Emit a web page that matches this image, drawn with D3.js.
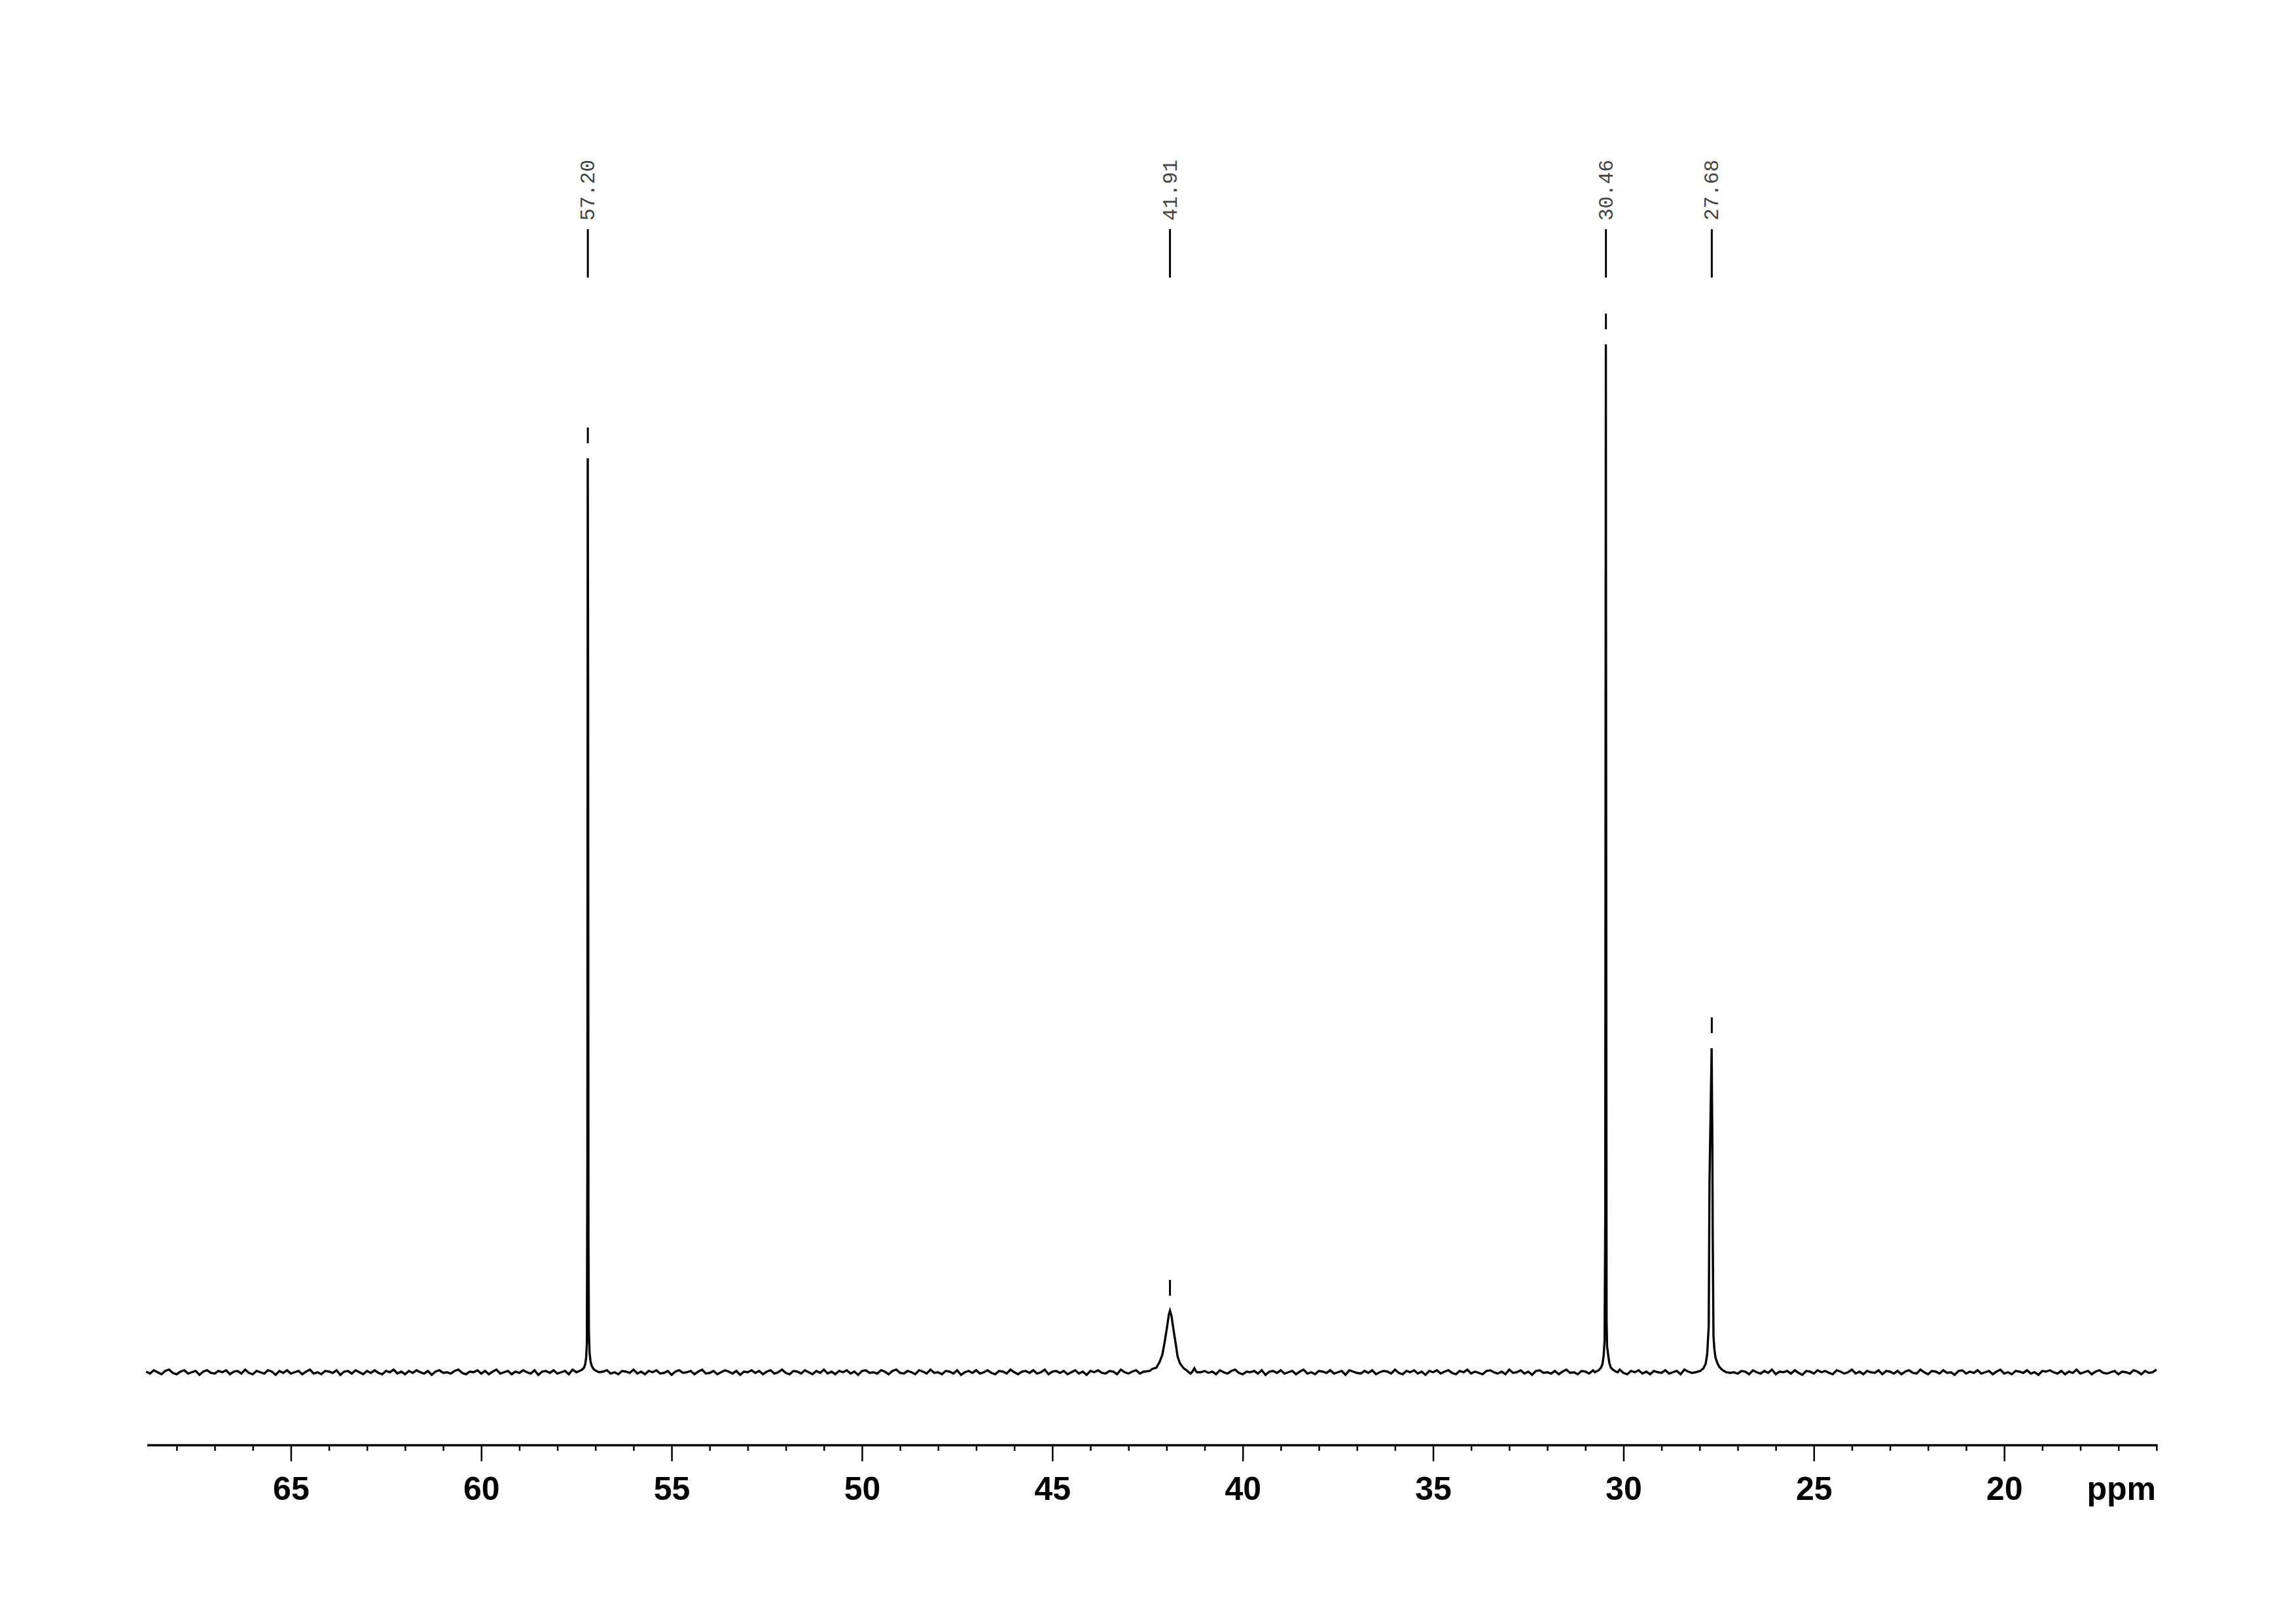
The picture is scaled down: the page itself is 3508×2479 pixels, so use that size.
<!DOCTYPE html>
<html>
<head>
<meta charset="utf-8">
<script src="https://cdn.jsdelivr.net/npm/d3@7"></script>
<style>
    html, body { margin: 0; padding: 0; background: #fff; }
    svg { display: block; }
</style>
</head>
<body>
<svg id="chart" width="3508" height="2479"></svg>
<script>
// picked peaks
const peakLabels = ['57.20', '41.91', '30.46', '27.68'];
const peakPpm = [57.20, 41.91, 30.46, 27.68];
const peakHeight = [1396, 94, 1570, 495];

// line shape around each peak, [ppm, intensity]
const peak57 = [[57.5,0],[57.42,2],[57.35,4],[57.3,7],[57.27,12],[57.245,22],[57.225,45],[57.212,323],[57.202,1396],
    [57.193,1065],[57.184,209],[57.172,62],[57.155,30],[57.13,17],[57.1,10],[57.05,5],[56.98,2],[56.9,0]];
const peak42 = [[42.6,1],[42.56,1],[42.44,2],[42.38,5],[42.27,7],[42.18,16],[42.11,27],[42.05,46],[41.99,68],[41.94,88],
    [41.91,94],[41.87,86],[41.81,62],[41.75,40],[41.71,24],[41.65,14],[41.59,9],[41.53,5],[41.47,3],[41.42,0],
    [41.37,-2],[41.32,1],[41.27,6],[41.23,2],[41.2,0]];
const peak30 = [[30.75,0],[30.65,3],[30.59,7],[30.55,13],[30.52,25],[30.495,48],[30.478,231],[30.462,1570],[30.452,674],
    [30.443,78],[30.43,40],[30.4,26],[30.37,14],[30.33,7],[30.28,4],[30.2,1],[30.15,0]];
const peak28 = [[28.1,0],[27.98,2],[27.9,6],[27.84,13],[27.8,28],[27.76,70],[27.74,290],[27.684,495],[27.664,344],[27.655,210],
    [27.635,55],[27.61,34],[27.58,22],[27.54,15],[27.49,9],[27.43,5],[27.36,2],[27.3,0]];

// baseline noise, one value every 0.1 ppm from 68.8 ppm downwards
const noiseStart = 68.8;
const noiseStep = 0.1;
const noise = [
    1,-2,3,0,-3,2,4,-1,-3,1,3,-2,0,2,-4,1,3,-1,-2,2,
    0,3,-3,1,2,-2,4,-1,-3,2,0,-2,3,1,-4,2,-1,3,-2,0,
    2,-3,1,4,-2,0,-3,2,1,-1,3,-4,1,2,-2,3,0,-3,2,-1,
    3,-1,-3,2,0,4,-2,1,-3,2,-1,3,0,-2,2,-4,1,3,-1,0,
    -2,2,4,-1,-3,1,0,3,-2,2,-3,1,4,-2,0,2,-3,1,-1,3,
    0,-2,3,-4,1,2,-1,3,-2,0,2,-3,4,1,-2,0,3,-1,-3,2,
    1,3,-2,0,-3,2,1,-1,4,-2,1,-3,2,0,3,-2,-1,2,-4,1,
    3,-1,0,2,-3,1,4,-2,-1,2,-3,0,3,1,-2,2,-4,1,0,3,
    -1,2,-3,1,3,-2,0,4,-1,-3,2,1,-2,3,0,-3,2,-1,4,-2,
    1,-3,2,0,3,-2,1,-4,2,3,-1,0,-2,3,1,-3,2,4,-1,-2,
    2,0,-3,3,1,-2,4,-1,0,-3,2,1,-2,3,-4,0,2,-1,3,-2,
    0,3,-1,-3,2,1,-2,4,0,-3,1,2,-1,3,-2,0,4,-3,1,2,
    -1,2,-3,0,3,-2,1,-4,2,0,3,-1,-2,2,1,-3,4,0,-2,1,
    3,-2,0,2,-3,1,3,-1,-4,2,0,3,-2,1,-1,4,-3,0,2,-1,
    1,-3,3,0,-2,2,4,-1,-3,1,0,2,-2,3,-4,1,2,-1,3,-2,
    0,2,-3,1,4,-2,0,-3,2,1,-1,3,-2,0,2,-4,3,1,-1,-2,
    2,-1,3,-3,0,2,1,-2,4,-1,-3,2,0,3,-2,1,-4,2,0,3,
    -2,1,3,-1,-3,2,0,4,-2,1,-1,-3,2,3,0,-2,1,-3,4,-1,
    0,3,-2,1,-4,2,3,-1,0,-2,2,-3,1,4,-1,0,-3,2,1,-2,
    3,-1,0,-3,2,1,-2,4,-1,-3,2,0,3,-2,1,-3,2,0,-1,3,
    -2,0,2,-3,4,1,-1,-3,2,0,3,-2,1,-4,2,3,-1,0,-2,2,
    1,-3,3,0,-2,2,-1,4,-3,1,0,2,-2,3,-1,-4,2,1,-2,3,
    0,2,-1,-3,3,1,-2,0,4,-2,1,-3,2,0,-1,3,-3,2,1,-2,
    2,-3,1,3,-1,-2,4,0,-3,2,1,-2,3,-1,0,-4,2,3,-2,1,
    -1,3,-2,0,2,-3,1,4,-2,0,-3,2,1,-1,3,-2,0,-4,2,1,
    3,0,-2,2,-3,1,-1,4,-2,0,2,-3,1,3,-1,-2,0,2,-3,1,
    0,-2,3,1,-3,2,-1,0,4,-2,1,-3,2,0,3,-1,-2,2,-4,1
];

const majorTicks = [65, 60, 55, 50, 45, 40, 35, 30, 25, 20];
const minorTicks = d3.range(16, 69).filter(v => v % 5 !== 0);

const ppmLeft = 68.78;
const ppmRight = 15.98;

const svg = d3.select('#chart');
svg.append('rect').attr('width', 3508).attr('height', 2479).attr('fill', '#fff');

const x = d3.scaleLinear().domain([ppmLeft, ppmRight]).range([224.5, 3296]);
const y = d3.scaleLinear().domain([0, 1570]).range([2096, 526]);

//build the trace: noise outside the peak windows plus the peak shapes
const shapes = [peak57, peak42, peak30, peak28];
const windows = shapes.map(s => [s[s.length - 1][0], s[0][0]]);
const base = noise
    .map((v, i) => [+(noiseStart - i * noiseStep).toFixed(2), v])
    .filter(d => d[0] >= ppmRight && !windows.some(w => d[0] >= w[0] && d[0] <= w[1]));
const trace = base.concat(...shapes).sort((a, b) => b[0] - a[0]);

const line = d3.line()
    .x(d => x(d[0]))
    .y(d => y(d[1]));

svg.append('path')
    .datum(trace)
    .attr('d', line)
    .attr('fill', 'none')
    .attr('stroke', '#000')
    .attr('stroke-width', 3.4);

//peak labels
const peaks = peakLabels.map((label, i) => ({ label, ppm: peakPpm[i], h: peakHeight[i] }));
const pg = svg.append('g').selectAll('g')
    .data(peaks)
    .join('g');

pg.append('line')
    .attr('x1', d => x(d.ppm))
    .attr('x2', d => x(d.ppm))
    .attr('y1', 350)
    .attr('y2', 424)
    .attr('stroke', '#000')
    .attr('stroke-width', 3);

pg.append('line')
    .attr('x1', d => x(d.ppm))
    .attr('x2', d => x(d.ppm))
    .attr('y1', d => y(d.h) - 47)
    .attr('y2', d => y(d.h) - 23)
    .attr('stroke', '#000')
    .attr('stroke-width', 3);

pg.append('text')
    .attr('transform', d => `translate(${x(d.ppm)},337) rotate(-90)`)
    .attr('y', 10)
    .attr('font-family', '"Liberation Mono", "DejaVu Sans Mono", monospace')
    .attr('font-size', 31)
    .attr('fill', '#444')
    .text(d => d.label);

//x axis
const axisY = 2207;
const minorAxis = svg.append('g')
    .attr('transform', `translate(0,${axisY})`)
    .call(d3.axisBottom(x).tickValues(minorTicks).tickSize(9).tickSizeOuter(0).tickFormat(''));
minorAxis.select('.domain').remove();
minorAxis.selectAll('line').attr('stroke', '#000').attr('stroke-width', 2.5);

const majorAxis = svg.append('g')
    .attr('transform', `translate(0,${axisY})`)
    .call(d3.axisBottom(x).tickValues(majorTicks).tickSize(25).tickSizeOuter(0));
majorAxis.select('.domain').attr('stroke', '#000').attr('stroke-width', 3.5);
majorAxis.selectAll('.tick line').attr('stroke', '#000').attr('stroke-width', 2.5);
majorAxis.selectAll('.tick text')
    .attr('y', 84)
    .attr('dy', null)
    .attr('fill', '#000')
    .attr('font-family', '"Liberation Sans", Arial, sans-serif')
    .attr('font-weight', 'bold')
    .attr('font-size', 50);

svg.append('text')
    .attr('x', 3294)
    .attr('y', axisY + 84)
    .attr('text-anchor', 'end')
    .attr('font-family', '"Liberation Sans", Arial, sans-serif')
    .attr('font-weight', 'bold')
    .attr('font-size', 50)
    .text('ppm');
</script>
</body>
</html>
